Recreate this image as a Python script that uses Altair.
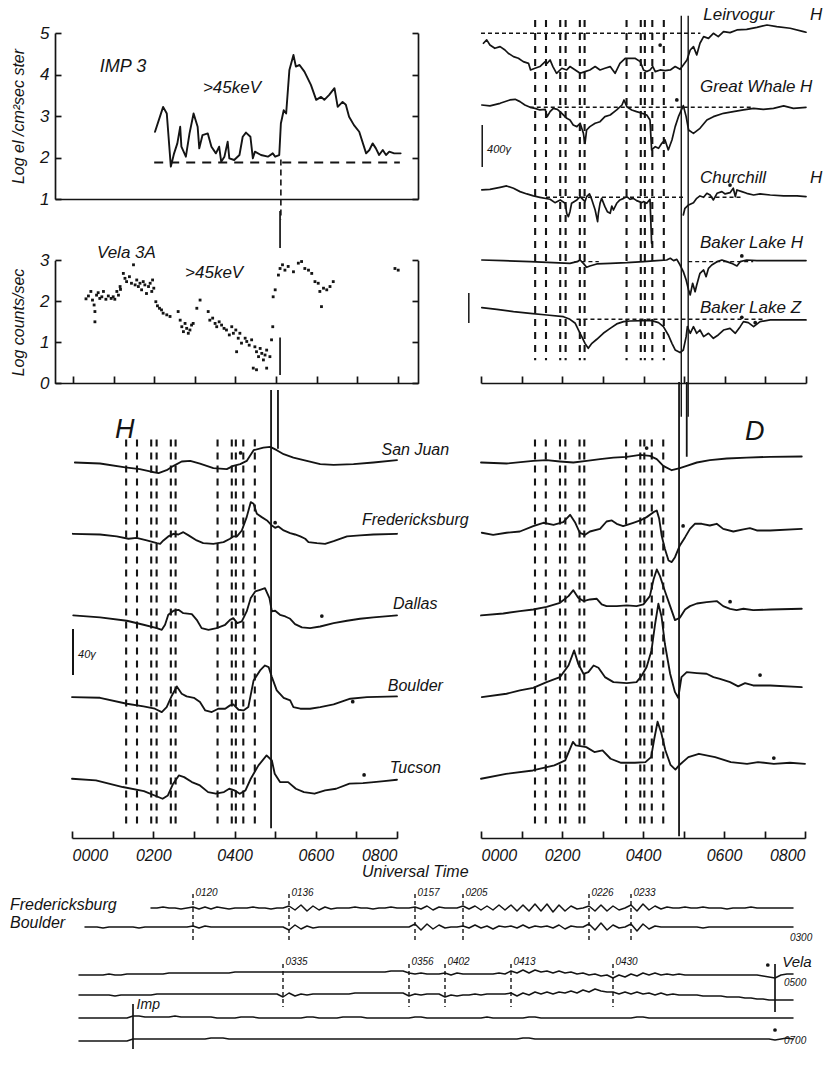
import altair as alt
import pandas as pd

FONT = "Liberation Sans"
INK = "#141414"
W, H = 831, 1065

# ---------------- event times (hours UT) ----------------
EVENT_H = [1.333, 1.600, 1.950, 2.083, 2.433, 2.550, 3.583, 3.933, 4.033, 4.217, 4.500]
TL_ONSET = 5.12          # onset marker in the satellite panels

# ---------------- IMP 3 (>45 keV electrons, log flux) ----------------
IMP_T = [2.02,2.22,2.31,2.41,2.49,2.57,2.64,2.67,2.78,2.87,2.97,3.07,3.11,3.19,3.32,3.41,3.52,3.60,3.65,3.73,
         3.81,3.85,3.97,4.10,4.18,4.26,4.37,4.43,4.48,4.63,4.80,4.92,4.98,5.08,5.12,5.19,5.25,5.33,5.43,5.49,
         5.58,5.70,5.86,5.99,6.11,6.19,6.31,6.44,6.52,6.64,6.72,6.80,6.92,7.05,7.22,7.30,7.38,7.46,7.54,7.63,
         7.71,7.79,7.91,8.07]
IMP_V = [2.62,3.22,3.06,1.78,2.10,2.34,2.74,2.26,2.02,2.58,3.06,2.74,2.22,2.54,2.58,2.26,2.10,2.26,1.90,2.02,
         2.38,1.98,1.94,2.06,2.50,2.60,2.50,1.98,2.14,2.06,2.02,2.10,2.02,2.06,2.82,3.14,3.06,4.11,4.47,4.19,
         4.23,4.07,3.75,3.39,3.46,3.39,3.51,3.67,3.22,3.34,3.27,2.98,2.78,2.62,2.10,2.18,2.34,2.22,2.06,2.18,
         2.06,2.14,2.10,2.10]
IMP_BASE = 1.88

# ---------------- Vela 3A (log counts/sec) ----------------
VELA_T = [0.32,0.38,0.44,0.48,0.52,0.54,0.54,0.58,0.62,0.66,0.71,0.75,0.81,0.87,0.94,0.99,1.03,1.08,1.12,1.16,1.17,
          1.24,1.28,1.32,1.39,1.44,1.49,1.53,1.57,1.61,1.65,1.69,1.73,1.77,1.81,1.86,1.90,1.94,1.96,1.99,
          2.04,2.08,2.13,2.18,2.22,2.31,2.39,
          2.59,2.64,2.68,2.72,2.76,2.80,2.84,2.88,2.92,2.96,3.05,3.13,
          3.33,3.37,3.44,3.50,3.54,3.60,3.66,3.72,3.78,3.85,3.91,3.95,4.01,4.07,4.03,4.11,4.15,
          4.24,4.28,4.34,4.40,4.48,4.52,4.57,4.61,4.65,4.69,4.73,4.77,4.44,4.52,4.77,4.85,4.89,4.92,
          4.93,4.98,5.06,5.10,5.16,5.22,5.30,5.43,5.55,5.63,5.71,5.80,5.88,5.96,6.04,6.08,6.12,6.17,6.25,6.33,6.41,
          7.93,8.01]
VELA_V = [2.06,2.13,2.24,2.03,1.91,1.75,1.50,2.15,2.21,2.07,2.11,2.24,2.05,2.13,2.07,2.11,2.05,2.24,2.15,2.36,2.29,
          2.68,2.56,2.48,2.60,2.44,2.89,2.40,2.52,2.36,2.44,2.28,2.48,2.40,2.19,2.36,2.44,2.24,2.52,2.32,
          1.99,1.89,1.83,1.79,1.71,1.67,1.63,
          1.75,1.54,1.38,1.26,1.46,1.34,1.22,1.30,1.42,1.46,1.83,2.03,
          1.75,1.54,1.59,1.46,1.38,1.50,1.42,1.34,1.30,1.18,1.38,1.22,1.30,1.10,0.77,1.22,0.98,
          1.10,1.02,0.93,1.06,0.89,0.77,0.65,0.85,0.73,0.57,0.69,0.81,0.37,0.33,0.37,0.65,1.06,1.38,
          2.11,2.28,2.64,2.80,2.89,2.76,2.85,2.72,2.93,2.97,2.80,2.76,2.68,2.48,2.44,2.24,1.87,2.32,2.28,2.36,2.48,
          2.80,2.76]

# ---------------- high-latitude magnetograms (gamma from reference level) ----------------
LEIR_T = [0.06,0.14,0.22,0.34,0.47,0.59,0.67,0.80,0.92,1.04,1.17,1.22,1.33,1.45,1.58,1.63,1.70,1.77,1.86,1.99,
          2.11,2.19,2.32,2.44,2.56,2.68,2.81,2.93,3.05,3.18,3.30,3.42,3.55,3.67,3.79,3.92,4.00,4.08,4.16,4.23,
          4.29,4.41,4.53,4.66,4.78,4.90,4.98,5.07,5.15,5.23,5.31,5.39,5.48,5.60,5.72,5.84,5.97,6.13,6.30,6.54,
          6.79,7.04,7.28,7.61,7.94,8.00]
LEIR_D = [-95,-63,-111,-143,-127,-159,-190,-222,-238,-270,-286,-349,-333,-317,-270,-286,-254,-317,-381,-333,
          -349,-317,-349,-381,-365,-349,-317,-349,-333,-317,-381,-286,-238,-238,-238,-270,-349,-365,-349,-317,
          -365,-349,-356,-349,-317,-343,-302,-254,-159,-127,-206,-95,-32,-48,0,-32,16,6,32,38,
          57,79,63,48,16,10]
GW_T = [0.02,0.22,0.47,0.71,0.84,0.96,1.08,1.21,1.33,1.45,1.58,1.63,1.70,1.78,1.88,1.99,2.11,2.19,2.27,2.36,
        2.44,2.52,2.56,2.60,2.68,2.81,2.93,3.05,3.18,3.34,3.47,3.52,3.59,3.71,3.83,3.96,4.08,4.16,4.20,4.29,
        4.37,4.45,4.53,4.61,4.70,4.78,4.86,4.98,5.05,5.11,5.23,5.39,5.56,5.72,5.97,6.21,6.46,6.71,6.95,7.20,
        7.45,7.69,8.00]
GW_D = [22,13,38,70,76,54,22,0,-10,-25,-19,-89,-41,-10,-19,-57,-105,-121,-168,-184,
        -152,-248,-343,-216,-184,-152,-137,-89,-73,-25,22,70,6,-25,-41,-57,-73,-121,-406,-375,
        -391,-343,-311,-406,-311,-184,-89,16,-89,-216,-248,-200,-121,-89,-57,-41,-25,-10,-19,-10,
        13,-10,0]
CHUR_A_T = [0.02,0.22,0.47,0.63,0.80,0.96,1.13,1.29,1.45,1.70,1.82,1.95,2.07,2.11,2.15,2.19,2.23,2.36,2.44,2.56,
            2.60,2.67,2.73,2.81,2.87,2.89,2.93,2.97,3.05,3.11,3.18,3.22,3.26,3.34,3.42,3.51,3.59,3.67,3.75,3.83,
            3.96,4.00,4.08,4.16,4.20]
CHUR_A_D = [70,76,95,108,86,54,32,13,0,-19,-51,-25,-57,-152,-184,-137,-57,-25,6,-41,
            6,32,-25,-121,-232,-152,-57,-10,-89,-137,-152,-83,-121,-57,-25,-10,6,-19,-10,-32,
            -51,-41,-57,-19,-438]
CHUR_B_T = [4.98,5.02,5.11,5.23,5.31,5.39,5.48,5.56,5.64,5.72,5.81,5.93,6.01,6.13,6.21,6.26,6.30,6.42,6.54,6.71,
            6.87,7.12,7.45,7.78,8.00]
CHUR_B_D = [-168,-105,-73,-51,-10,13,0,38,22,-25,38,54,32,44,86,6,70,54,38,22,32,22,13,13,6]
BLH_T = [0.02,0.55,1.21,1.78,2.19,2.36,2.44,2.52,2.60,2.68,2.85,3.18,3.59,4.00,4.33,4.57,4.66,4.74,4.82,4.90,
         4.98,5.05,5.11,5.15,5.21,5.27,5.31,5.39,5.48,5.54,5.60,5.68,5.81,5.93,6.05,6.17,6.30,6.38,6.54,6.79,
         7.12,7.53,8.00]
BLH_D = [16,10,0,-10,-16,0,16,-16,-54,-41,-22,-16,-10,0,10,16,32,10,22,-32,
         -95,-175,-270,-317,-206,-286,-222,-111,-79,-143,-63,-32,0,16,0,-16,-41,0,16,10,
         10,10,10]
BLZ_T = [0.02,0.39,0.80,1.21,1.62,2.03,2.19,2.32,2.40,2.48,2.56,2.64,2.73,2.85,3.01,3.18,3.34,3.51,3.67,4.00,
         4.20,4.37,4.49,4.61,4.70,4.78,4.90,4.98,5.05,5.08,5.15,5.23,5.31,5.39,5.48,5.60,5.72,5.84,5.97,6.13,
         6.26,6.38,6.46,6.58,6.71,6.87,7.12,7.45,7.78,8.00]
BLZ_D = [111,95,73,57,41,25,0,-38,-102,-165,-229,-276,-229,-190,-133,-86,-44,-22,-16,-13,
         -13,-32,-70,-149,-229,-292,-317,-292,-165,-70,-133,-70,-133,-102,-165,-133,-181,-149,-102,-86,
         -133,-70,-22,-32,-70,-22,-6,-6,-6,-6]
# reference (dashed) levels of each magnetogram, gamma
MAG_LEVEL = {"Leirvogur": -317, "Great Whale": -1022, "Churchill": -1879, "Baker Lake H": -2492, "Baker Lake Z": -3041}
MAG_REF_SEGMENTS = [("Leirvogur", 0.0, 5.4), ("Great Whale", 1.2, 6.7), ("Churchill", 1.6, 5.0), ("Churchill", 5.6, 6.4),
                    ("Baker Lake H", 2.3, 2.9), ("Baker Lake H", 5.1, 6.7), ("Baker Lake Z", 2.35, 7.0)]

# ---------------- low-latitude H and D (gamma from each station's start) ----------------
STATIONS = ["San Juan", "Fredericksburg", "Dallas", "Boulder", "Tucson"]
STATION_OFFSET = [0, -62, -133, -204, -275]

H_SJ_T = [0.07,0.69,1.31,1.67,1.92,2.13,2.33,2.50,2.70,2.91,3.15,3.48,3.81,3.97,4.14,4.30,4.47,4.71,4.88,5.04,
          5.21,5.45,5.78,6.11,6.44,6.93,7.42,8.00]
H_SJ_D = [0,-0.9,-4.3,-5.8,-7.8,-9.3,-6.7,-2.9,0.9,1.4,-0.9,-4.9,-5.8,-2.9,-1.4,1.4,10.7,13.0,13.6,10.7,
          7.2,4.3,1.4,-1.4,-2.0,-1.4,0,2.0]
H_FR_T = [0.02,0.69,1.10,1.39,1.59,1.84,2.09,2.17,2.25,2.37,2.50,2.62,2.74,2.87,3.07,3.23,3.48,3.73,3.89,3.97,
          4.06,4.18,4.30,4.40,4.47,4.55,4.67,4.80,4.92,5.00,5.08,5.21,5.37,5.49,5.62,5.74,5.82,6.03,6.23,6.44,
          6.77,7.09,7.42,8.00]
H_FR_D = [0,-0.6,-2.3,-4.3,-3.5,-5.8,-8.1,-8.7,-5.8,-2.3,0,-0.6,1.4,-1.4,-5.8,-8.1,-8.7,-7.2,-4.3,-2.3,
          -2.3,2.9,14.5,27.5,26.1,17.4,14.5,11.6,7.2,5.2,6.4,2.9,0.6,-0.6,-2.3,-4.3,-7.2,-8.1,-8.7,-6.4,
          -2.3,-1.4,-0.6,0]
H_DA_T = [0.03,0.69,1.35,1.76,2.09,2.21,2.29,2.37,2.50,2.62,2.74,2.95,3.07,3.19,3.36,3.56,3.77,3.89,3.97,4.07,
          4.18,4.30,4.40,4.51,4.63,4.75,4.86,4.92,5.00,5.12,5.25,5.37,5.49,5.66,5.86,6.11,6.44,6.77,7.09,7.42,
          8.00]
H_DA_D = [0,-1.7,-4.6,-8.1,-11.0,-12.5,-8.1,0.6,4.1,4.9,2.0,1.2,-3.8,-11.0,-12.5,-11.0,-8.1,-3.8,-2.3,-6.7,
          -5.2,3.5,15.1,20.9,22.3,23.8,15.1,3.5,4.1,0.6,-0.9,-2.9,-7.5,-10.4,-11.0,-9.6,-6.7,-4.6,-2.9,-1.7,
          0]
H_BO_T = [0.00,0.69,1.35,1.76,2.04,2.21,2.33,2.46,2.58,2.70,2.82,3.00,3.15,3.28,3.44,3.60,3.77,3.89,3.97,4.10,
          4.22,4.34,4.47,4.63,4.75,4.84,4.92,5.04,5.21,5.37,5.45,5.62,5.86,6.11,6.44,6.85,7.26,8.00]
H_BO_D = [0,-0.6,-5.8,-8.1,-10.1,-13.0,-8.7,1.4,9.3,2.9,0.6,-0.6,-4.3,-11.6,-13.0,-10.1,-10.1,-7.2,-6.4,-11.0,
          -11.6,-8.7,14.5,23.2,27.5,26.1,17.4,5.8,-0.6,-2.9,-8.7,-10.1,-10.1,-8.7,-6.4,-1.4,0,0.6]
H_TU_T = [0.00,0.59,1.25,1.77,2.23,2.36,2.49,2.63,2.76,2.95,3.15,3.35,3.54,3.74,3.87,4.00,4.13,4.27,4.40,4.59,
          4.79,4.92,4.99,5.12,5.32,5.51,5.71,5.97,6.23,6.50,6.83,7.16,7.43,7.68,8.00]
H_TU_D = [0,-1.4,-7.2,-10.7,-17.4,-14.5,-4.3,2.9,1.4,-2.9,-5.8,-11.6,-13.0,-11.6,-8.7,-10.1,-13.0,-10.1,0,11.6,
          20.3,15.9,4.3,-2.9,-2.9,-8.7,-11.6,-13.0,-10.1,-8.7,-4.3,-3.8,-2.9,-2.0,-0.9]

D_SJ_T = [0.00,0.63,1.29,1.62,1.95,2.28,2.61,2.94,3.27,3.60,3.93,4.17,4.34,4.50,4.71,4.91,5.08,5.33,5.65,6.07,
          6.56,7.14,7.92]
D_SJ_D = [0,-0.9,1.4,2.0,0.9,0,1.4,2.9,4.3,4.9,6.7,5.8,2.9,-2.9,-6.7,-4.9,-2.9,0,2.0,3.5,4.3,4.9,5.2]
D_FR_T = [0.02,0.30,0.63,0.96,1.29,1.54,1.79,2.03,2.20,2.32,2.44,2.57,2.69,2.94,3.10,3.23,3.35,3.51,3.76,3.93,
          4.09,4.26,4.34,4.40,4.46,4.54,4.63,4.71,4.79,4.91,5.04,5.16,5.28,5.45,5.65,5.82,5.98,6.23,6.48,6.64,
          6.81,7.14,7.92]
D_FR_D = [0.9,-0.9,0.9,2.0,6.7,9.6,7.8,10.1,16.5,10.1,0.9,-0.9,2.0,4.3,10.7,11.6,8.7,6.7,9.6,11.6,
          14.5,18.8,20.3,13.0,-1.4,-13.0,-23.2,-24.6,-20.3,-10.1,-2.9,4.3,8.7,8.7,7.2,8.7,4.3,2.0,3.8,4.9,
          2.9,2.9,4.3]
D_DA_T = [0.00,0.55,0.96,1.29,1.62,1.95,2.16,2.28,2.40,2.53,2.69,2.86,2.98,3.10,3.35,3.60,3.84,4.01,4.17,4.26,
          4.34,4.42,4.54,4.67,4.79,4.91,5.04,5.16,5.33,5.57,5.82,5.98,6.15,6.31,6.48,6.72,7.14,7.92]
D_DA_D = [0,1.7,3.8,5.2,7.5,11.0,16.8,22.0,15.4,12.5,13.9,14.5,9.6,8.1,8.1,8.7,8.1,9.6,16.8,31.3,
          40.0,34.2,21.2,8.1,-4.1,-2.0,5.2,8.1,10.4,11.6,12.5,8.1,5.8,4.6,5.8,4.6,5.2,5.8]
D_BO_T = [0.02,0.63,0.96,1.29,1.62,1.95,2.16,2.30,2.40,2.53,2.65,2.78,2.90,3.06,3.27,3.60,3.84,3.97,4.09,4.21,
          4.30,4.38,4.46,4.54,4.67,4.79,4.87,4.95,5.08,5.33,5.57,5.74,5.90,6.15,6.35,6.52,6.72,7.14,7.92]
D_BO_D = [0,2.9,5.8,8.1,13.0,17.4,27.5,40.6,29.0,20.3,21.7,27.5,25.5,17.4,13.0,12.2,13.0,18.8,26.1,40.6,
          63.8,81.2,69.6,46.4,20.3,4.3,-0.6,17.4,21.7,20.9,20.3,17.4,15.9,13.0,9.3,12.2,10.1,10.1,8.7]
D_TU_T = [0.00,0.62,1.28,1.81,2.08,2.27,2.34,2.60,2.80,3.00,3.20,3.46,3.80,4.06,4.20,4.28,4.36,4.45,4.55,4.68,
          4.80,4.90,5.12,5.38,5.78,6.17,6.57,6.84,7.23,7.63,8.00]
D_TU_D = [0,4.3,7.2,11.6,15.9,32.0,29.0,27.5,23.2,24.6,17.4,13.9,13.9,14.5,18.8,35.0,49.6,40.0,25.0,12.0,
          8.0,12.0,18.8,21.7,18.8,14.5,13.0,14.5,13.0,13.9,13.0]

# ---------------- micropulsation strips (minutes within each 2-hour strip) ----------------
MP_ROW1_EVENTS = [20, 36, 57, 65, 86, 93]
MP_ROW1_LABELS = ["0120", "0136", "0157", "0205", "0226", "0233"]
MP_ROW2_EVENTS = [35, 56, 62, 73, 90]
MP_ROW2_LABELS = ["0335", "0356", "0402", "0413", "0430"]
MP_VELA_MIN = 117   # 0457, strip 0300-0500
MP_IMP_MIN = 10     # 0510, strip 0500-0700
MP_BASE = {"F1": -16, "B1": -35, "F2": -83, "B2": -103, "F3": -126, "B3": -148}
MP_START = {"F1": 13, "B1": 2, "F2": 1, "B2": 1, "F3": 1, "B3": 1}
MP_F1 = [0,0,1,0,0,-1,0, 1,-1,1,-1,1,0,-1,0, 0,0,1,0,0,-1,0,0, 2,-2,3,-3,2,-2,1,-1,0,0,
         0,1,0,0,-1,0,0,1,0,0,0, 1,-1,2,-2,1,0,0,0,
         2,-1,2,-2,2,-2,3,-2,3,-3,3,-3,4,-3,4,-4,3,-3,2,-1,0, 2,-3,3,-3,2,-2,0, 3,-3,4,-2,2,-1,1,0,
         0,1,0,0,1,0,0,0,-1,0,0,0,1,0,0,0,0,0,0,0]
MP_B1 = [0,0,0,-1,0,0,0,0,0,-1,0,0,0,0,0,0,0,0, 1,-1,1,0,0,0,0,0, 0,0,0,0,0,0,0,0,
         -3,2,-2,1,-1,0,0,0,0,0, 0,0,0,0,0,0,0,0,0,0,0, 3,-3,3,-2,2,-1,0,0,
         1,-1,2,-1,1,-2,1,0,1,-1,2,-1,1,0,1,-1,2,-2,1,0,0, 3,-3,4,-3,2,-1,0, 3,-4,3,-2,1,0,0,0,
         0,0,0,0,-1,0,0,0,0,0,0,0,0,0,0,0,0,0,0,0]
MP_F2 = [0,0,0,0,0,1,0,0,1,1,1,1,1,1,1,2,2,2,2,2,2,2,2,2,2,2,3,3,3,3,3,3,3,3,
         3,3,3,3,3,3,3,3,3,3,3,3,3,3,3,3,3,3,4,4,4, 2,1,2,1,1,1, 2,0,2,1,1,1,1,1,1,2,1,
         4,2,5,2,5,3,4,2,4,2,3,1,2,0,1,-1,0, -3,0,-2,1,-1,2,0,2,0,1,0,1,0,0,0,0,0,0,0,0,0,
         0,0,0,0,-1,-2,-3,0,1,1]
MP_B2 = [0,0,0,0,0,0,-1,0,0,0,0,0,0,1,1,1,1,1,1,1,1,1,1,1,1,1,1,1,1,1,1,1,1,1,
         -2,2,-1,1,0,1,1,1,1,1,1,1,2,2,2,2,2,2,2,2,2, -1,1,0,1,1,1, -2,0,-1,0,0,1,0,1,1,1,1,
         2,-1,2,0,3,1,3,1,3,2,4,2,5,3,6,4,3, 3,1,3,1,3,1,2,0,2,0,1,0,0,0,0,-1,-1,-1,-1,-2,-2,
         -2,-3,-3,-4,-4,-5,-5,-5,-5,-5]
MP_F3 = [0,0,0,0,0,0,0,0,0, 2,2,1,1,1,1,1,2,1,1,1,
         1,1,1,0,0,0,0,1,1,1, 0,0,0,0,0,0,0,0,1,1, 0,0,0,0,1,1,1,1,0,0, 0,0,0,0,0,0,1,1,0,0,
         0,0,0,0,0,0,0,0,1,0, 0,0,0,0,0,1,1,0,0,0, 0,0,0,0,0,0,0,0,0,0, 0,0,0,1,1,0,0,0,0,0,
         0,0,0,0,0,0,0,0,0,0, 0,0,0,0,0,0,0,0,0,0]
MP_B3 = [-1,-1,-1,-1,-1,-1,-1,-1,-1, 1,1,1,1,1,1,1,1,1,1,1,
         1,1,2,2,2,1,1,1,1,1, 1,1,1,1,1,1,1,1,1,1, 1,1,1,1,1,1,1,1,1,1, 1,1,1,1,1,1,1,1,1,1,
         1,1,1,1,1,1,1,1,1,1, 1,1,1,1,2,2,1,1,1,1, 1,1,1,1,1,1,1,1,1,1, 1,1,1,1,1,1,1,1,1,1,
         1,1,1,1,1,1,1,1,1,1, 1,1,1,1,1,1,0,1,2,1]
MP_SERIES = {"F1": MP_F1, "B1": MP_B1, "F2": MP_F2, "B2": MP_B2, "F3": MP_F3, "B3": MP_B3}

# ---------------- scales: each panel maps its data units onto its place on the page ----------------
def S(dom, rng):
    return alt.Scale(domain=dom, range=rng, nice=False, zero=False)

TL_X = S([-0.4433, 8.4975], [55, 418])
IMP_Y = S([1, 5], [199, 33])
VELA_Y = S([0, 3], [383.3, 260.3])
MAG_X = S([0, 8], [481, 806])
MAG_Y = S([-3650, 0], [383.25, 0])
H_X = S([0, 8], [72, 397])
D_X = S([0, 8], [481, 805])
HD_Y = S([-330, 70], [842, 382])
MP_X = S([0, 120], [73, 793])
MP_Y = S([-170, 10], [1062, 882])

LW = 1.85   # trace weight

AXBASE = dict(domainColor=INK, tickColor=INK, labelColor=INK, titleColor=INK, grid=False,
              domainWidth=1.7, tickWidth=1.7)


def axis(**kw):
    d = dict(AXBASE)
    d.update(kw)
    return alt.Axis(**d)


def XY(xs, ys, xaxis=None, yaxis=None):
    return dict(x=alt.X("x:Q", scale=xs, axis=xaxis), y=alt.Y("y:Q", scale=ys, axis=yaxis))


def line_layer(df, xs, ys, width=LW, xaxis=None, yaxis=None):
    return alt.Chart(df).mark_line(color=INK, strokeWidth=width, strokeJoin="round", strokeCap="round").encode(
        detail="s:N", **XY(xs, ys, xaxis, yaxis))


def vrule_layer(df, xs, ys, width=1.6, dash=None, xaxis=None, yaxis=None):
    kw = dict(color=INK, strokeWidth=width)
    if dash:
        kw["strokeDash"] = dash
    enc = XY(xs, ys, xaxis, yaxis)
    enc["y2"] = alt.Y2("y2:Q")
    return alt.Chart(df).mark_rule(**kw).encode(**enc)


def hrule_layer(df, xs, ys, width=1.4, dash=None, xaxis=None, yaxis=None):
    kw = dict(color=INK, strokeWidth=width)
    if dash:
        kw["strokeDash"] = dash
    enc = XY(xs, ys, xaxis, yaxis)
    enc["x2"] = alt.X2("x2:Q")
    return alt.Chart(df).mark_rule(**kw).encode(**enc)


def text_layer(rows, xs, ys, align="left", xaxis=None, yaxis=None):
    df = pd.DataFrame(rows, columns=["t", "x", "y", "fs"])
    return alt.Chart(df).mark_text(font=FONT, fontStyle="italic", align=align, baseline="middle", color=INK).encode(
        text="t:N", size=alt.Size("fs:Q", scale=None, legend=None), **XY(xs, ys, xaxis, yaxis))


def dot_layer(xs_list, ys_list, xs, ys):
    df = pd.DataFrame({"x": xs_list, "y": ys_list})
    return alt.Chart(df).mark_circle(color=INK, size=14, opacity=1).encode(**XY(xs, ys))


layers = []

# ======== IMP 3 panel ========
imp_df = pd.DataFrame({"x": IMP_T, "y": IMP_V, "s": "imp"})
layers.append(line_layer(imp_df, TL_X, IMP_Y, width=1.9,
    xaxis=axis(orient="bottom", offset=199 - H, ticks=False, tickSize=0, labels=False, title=None),
    yaxis=axis(orient="left", offset=-55, values=[1, 2, 3, 4, 5], ticks=False, tickSize=0, labelPadding=6,
               labelFontSize=17, format="d", title="Log el /cm²sec ster", titleX=-37, titleY=116, titleAngle=270,
               titleAlign="center", titleBaseline="middle", titleFontSize=16)))
layers.append(hrule_layer(pd.DataFrame({"x": [2.0], "x2": [8.05], "y": [IMP_BASE]}), TL_X, IMP_Y, width=2.0,
    dash=[9, 7],
    yaxis=axis(orient="right", offset=55 - W, values=[1, 2, 3, 4, 5], ticks=True, tickSize=6, labels=False,
               domain=False, title=None)))
layers.append(vrule_layer(pd.DataFrame({"x": [TL_ONSET], "y": [1.95], "y2": [0.5]}), TL_X, IMP_Y, width=1.6,
    dash=[6, 4],
    yaxis=axis(orient="left", offset=-418, values=[1, 2, 3, 4, 5], ticks=True, tickSize=6, labels=False,
               title=None)))
layers.append(text_layer([("IMP 3", 0.66, 4.18, 18), (">45keV", 3.2, 3.67, 17)], TL_X, IMP_Y))

# ======== Vela 3A panel ========
vela_df = pd.DataFrame({"x": VELA_T, "y": VELA_V})
layers.append(alt.Chart(vela_df).mark_point(shape="square", filled=True, size=8, color=INK, opacity=1).encode(
    **XY(TL_X, VELA_Y,
         axis(orient="top", offset=-383, values=list(range(9)), ticks=True, tickSize=7, labels=False, title=None),
         axis(orient="left", offset=-55, values=[0, 1, 2, 3], ticks=False, tickSize=0, labelPadding=6,
              labelFontSize=17, format="d", title="Log counts/sec", titleX=-37, titleY=322, titleAngle=270,
              titleAlign="center", titleBaseline="middle", titleFontSize=16))))
layers.append(vrule_layer(pd.DataFrame({"x": [5.1, 5.1], "y": [4.2, 1.12], "y2": [3.3, 0.2]}), TL_X, VELA_Y,
    width=1.7,
    yaxis=axis(orient="right", offset=55 - W, values=[0, 1, 2, 3], ticks=True, tickSize=6, labels=False,
               domain=False, title=None)))
layers.append(text_layer([("Vela 3A", 0.59, 3.18, 17), (">45keV", 2.76, 2.69, 17)], TL_X, VELA_Y,
    yaxis=axis(orient="left", offset=-418, values=[0, 1, 2, 3], ticks=True, tickSize=6, labels=False,
               title=None)))

# ======== high-latitude magnetograms ========
mag_rows = []
for name, level, T, D in [("Leirvogur", MAG_LEVEL["Leirvogur"], LEIR_T, LEIR_D),
                          ("Great Whale", MAG_LEVEL["Great Whale"], GW_T, GW_D),
                          ("Churchill a", MAG_LEVEL["Churchill"], CHUR_A_T, CHUR_A_D),
                          ("Churchill b", MAG_LEVEL["Churchill"], CHUR_B_T, CHUR_B_D),
                          ("Baker Lake H", MAG_LEVEL["Baker Lake H"], BLH_T, BLH_D),
                          ("Baker Lake Z", MAG_LEVEL["Baker Lake Z"], BLZ_T, BLZ_D)]:
    for t, d in zip(T, D):
        mag_rows.append({"x": t, "y": level + d, "s": name})
layers.append(line_layer(pd.DataFrame(mag_rows), MAG_X, MAG_Y, width=1.7,
    xaxis=axis(orient="top", offset=-383, values=list(range(9)), ticks=True, tickSize=7, labels=False, title=None)))
ref_df = pd.DataFrame([{"x": a, "x2": b, "y": MAG_LEVEL[n]} for n, a, b in MAG_REF_SEGMENTS])
layers.append(hrule_layer(ref_df, MAG_X, MAG_Y, width=1.4, dash=[4, 3]))
layers.append(vrule_layer(pd.DataFrame({"x": EVENT_H, "y": [-190] * len(EVENT_H), "y2": [-3430] * len(EVENT_H)}),
                          MAG_X, MAG_Y, width=2.1, dash=[7, 6]))
layers.append(vrule_layer(pd.DataFrame({"x": [4.93, 5.10], "y": [-150, -150], "y2": [-3970, -3970]}),
                          MAG_X, MAG_Y, width=1.4))
layers.append(vrule_layer(pd.DataFrame({"x": [0.03, -0.3], "y": [-1190, -2790], "y2": [-1590, -3076]}),
                          MAG_X, MAG_Y, width=1.5))
layers.append(text_layer([("Leirvogur", 5.47, -143, 17), ("H", 8.1, -143, 17), ("Great Whale H", 5.39, -829, 17),
                          ("Churchill", 5.39, -1695, 17), ("H", 8.1, -1695, 17), ("Baker Lake H", 5.39, -2314, 17),
                          ("Baker Lake Z", 5.39, -2933, 17), ("400γ", 0.15, -1429, 11)], MAG_X, MAG_Y))
layers.append(dot_layer([4.41, 4.82, 6.13, 6.42, 6.42, 6.75], [-429, -952, -1762, -2438, -3022, -3073], MAG_X, MAG_Y))

# ======== low-latitude H and D panels ========
H_SERIES = [(H_SJ_T, H_SJ_D), (H_FR_T, H_FR_D), (H_DA_T, H_DA_D), (H_BO_T, H_BO_D), (H_TU_T, H_TU_D)]
D_SERIES = [(D_SJ_T, D_SJ_D), (D_FR_T, D_FR_D), (D_DA_T, D_DA_D), (D_BO_T, D_BO_D), (D_TU_T, D_TU_D)]
TIME_LABEL_EXPR = "format(datum.value * 100, '04d')"

for series, XS, vela_x, imp_x, vtop, vbot, itop, ibot in [
        (H_SERIES, H_X, 4.90, 5.07, 63, -318, 63, 12),
        (D_SERIES, D_X, 4.89, 5.08, 70, -325, 70, 5)]:
    rows = []
    for st, off, (T, D) in zip(STATIONS, STATION_OFFSET, series):
        for t, d in zip(T, D):
            rows.append({"x": t, "y": off + d, "s": st})
    layers.append(line_layer(pd.DataFrame(rows), XS, HD_Y,
        xaxis=axis(orient="top", offset=-838, values=list(range(9)), ticks=True, tickSize=7, labels=False,
                   title=None)))
    layers.append(vrule_layer(pd.DataFrame({"x": EVENT_H, "y": [20] * len(EVENT_H), "y2": [-318] * len(EVENT_H)}),
        XS, HD_Y, width=2.1, dash=[7, 6],
        xaxis=axis(orient="bottom", offset=838 - H, values=[0, 2, 4, 6, 8], ticks=False, tickSize=0,
                   domain=False, labelPadding=9, labelFontSize=16, labelExpr=TIME_LABEL_EXPR, title=None)))
    layers.append(vrule_layer(pd.DataFrame({"x": [vela_x, imp_x], "y": [vtop, itop], "y2": [vbot, ibot]}),
        XS, HD_Y, width=1.8))

layers.append(text_layer([("H", 1.06, 28.3, 27), ("40γ", 0.15, -167, 11)], H_X, HD_Y))
layers.append(text_layer([("D", 6.52, 26.5, 27)], D_X, HD_Y))
layers.append(text_layer([("San Juan", 8.45, 10.9, 16), ("Fredericksburg", 8.45, -50, 16), ("Dallas", 8.45, -123, 16),
                          ("Boulder", 8.45, -194.3, 16), ("Tucson", 8.45, -265.7, 16),
                          ("Universal Time", 8.45, -356, 16)], H_X, HD_Y, align="center"))
layers.append(vrule_layer(pd.DataFrame({"x": [0.025], "y": [-144.8], "y2": [-184.8]}), H_X, HD_Y, width=2.0))
layers.append(dot_layer([4.15, 5.0, 6.15, 6.91, 7.19], [8.3, -52.3, -133.5, -208, -271.7], H_X, HD_Y))
layers.append(dot_layer([4.09, 4.99, 6.15, 6.89, 7.23], [12.6, -55.2, -121, -184.8, -257], D_X, HD_Y))

# ======== micropulsation strips ========
mp_rows = []
for key, vals in MP_SERIES.items():
    for i, v in enumerate(vals):
        mp_rows.append({"x": MP_START[key] + i, "y": MP_BASE[key] + v, "s": key})
layers.append(line_layer(pd.DataFrame(mp_rows), MP_X, MP_Y, width=1.5))
mp_ev = pd.DataFrame({"x": MP_ROW1_EVENTS + MP_ROW2_EVENTS,
                      "y": [-2] * len(MP_ROW1_EVENTS) + [-72] * len(MP_ROW2_EVENTS),
                      "y2": [-48] * len(MP_ROW1_EVENTS) + [-115] * len(MP_ROW2_EVENTS)})
layers.append(vrule_layer(mp_ev, MP_X, MP_Y, width=1.4, dash=[4, 3]))
layers.append(vrule_layer(pd.DataFrame({"x": [MP_VELA_MIN, MP_IMP_MIN], "y": [-72, -112], "y2": [-120, -157]}),
                          MP_X, MP_Y, width=1.7))
mp_text = [("Fredericksburg", -10.5, -13, 16), ("Boulder", -10.5, -31, 16)]
mp_text += [(lab, m + 0.4, -1, 10) for m, lab in zip(MP_ROW1_EVENTS, MP_ROW1_LABELS)]
mp_text += [(lab, m + 0.4, -70, 10) for m, lab in zip(MP_ROW2_EVENTS, MP_ROW2_LABELS)]
mp_text += [("Vela", 118.2, -70, 15), ("0500", 118.5, -91, 10), ("0300", 119.5, -46, 10),
            ("Imp", 10.6, -113, 14), ("0700", 118.5, -149, 10)]
layers.append(text_layer(mp_text, MP_X, MP_Y))
layers.append(dot_layer([115.8, 117], [-73, -138], MP_X, MP_Y))

chart = (
    alt.layer(*layers)
    .resolve_scale(x="independent", y="independent")
    .properties(width=W, height=H, autosize=alt.AutoSizeParams(type="none"), padding=0, background="white")
    .configure_view(stroke=None)
    .configure_axis(labelFont=FONT, labelFontStyle="italic", labelFontSize=15, titleFont=FONT,
                    titleFontStyle="italic", titleFontSize=15, titleFontWeight="normal")
)

chart.save("out.html", embed_options={"renderer": "svg", "actions": False})
